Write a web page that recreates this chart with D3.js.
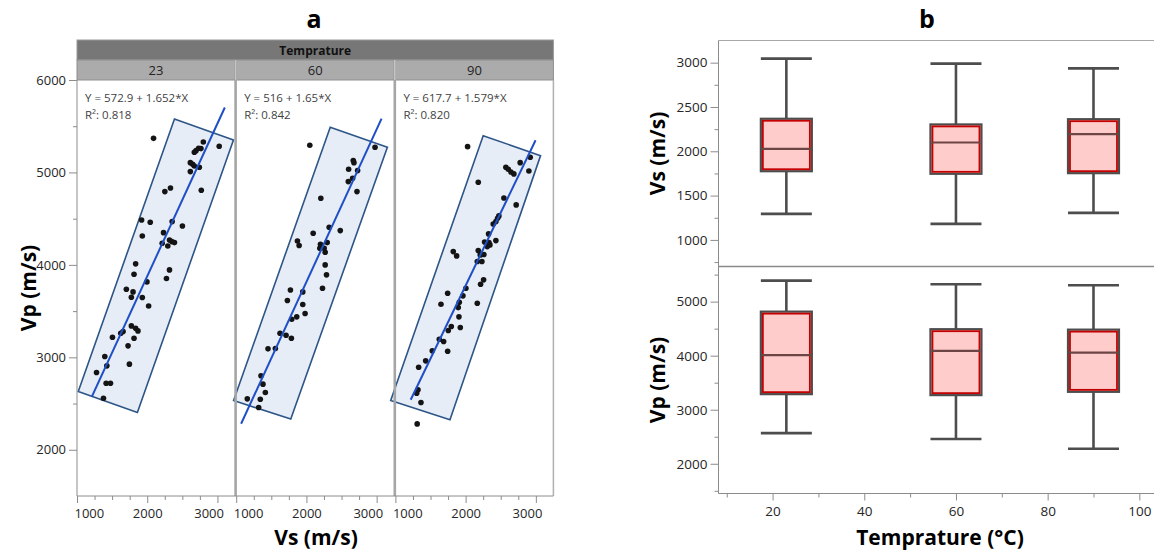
<!DOCTYPE html>
<html><head><meta charset="utf-8">
<script src="https://cdn.jsdelivr.net/npm/d3@7"></script>
<style>
body{margin:0;background:#fff;}
svg text{font-family:"Open Sans","Noto Sans",sans-serif;}
</style></head><body>
<svg id="c" width="1154" height="551"></svg>
<script>
// ---------- DATA ----------
const facetLabels = ["23", "60", "90"];
const pts23 = [[2090,5369],[2799,5330],[3025,5283],[2732,5261],[2765,5258],[2695,5236],[2671,5218],[2614,5106],[2647,5088],[2671,5070],[2742,5056],[2614,5009],[2770,4807],[2251,4793],[2331,4832],[1920,4486],[2043,4461],[2355,4468],[2501,4421],[1930,4313],[2232,4349],[2213,4234],[2317,4270],[2350,4252],[2388,4241],[2293,4205],[1835,4011],[1812,3899],[2317,3946],[2274,3852],[1996,3816],[1703,3737],[1798,3708],[1774,3650],[1930,3647],[2020,3556],[1774,3340],[1835,3315],[1868,3286],[1656,3279],[1623,3261],[1812,3207],[1505,3218],[1727,3124],[1396,3009],[1425,2908],[1746,2926],[1278,2836],[1415,2720],[1477,2720],[1377,2558]];
const pts60 = [[2048,5294],[2977,5272],[2667,5128],[2677,5106],[2601,5034],[2729,5020],[2658,4937],[2596,4901],[2720,4793],[2205,4721],[2324,4407],[2482,4371],[2096,4342],[1872,4259],[1896,4209],[2296,4241],[2200,4223],[2191,4180],[2253,4180],[2267,4137],[2267,4000],[2286,3892],[2229,3748],[1772,3729],[1948,3708],[1729,3614],[1948,3571],[1981,3474],[1862,3438],[1791,3412],[1624,3261],[1710,3239],[1786,3207],[1453,3092],[1558,3095],[1353,2800],[1381,2710],[1415,2619],[1158,2551],[1343,2547],[1320,2457]];
const pts90 = [[2028,5279],[2920,5164],[2777,5106],[2573,5056],[2607,5034],[2645,5005],[2687,4984],[2901,5016],[2180,4894],[2545,4724],[2720,4649],[2474,4530],[2455,4504],[2431,4468],[2393,4443],[2327,4335],[2270,4248],[2332,4241],[2431,4263],[2308,4198],[2346,4216],[1824,4144],[1872,4097],[2180,4155],[2260,4112],[2208,4108],[2166,4036],[2232,4036],[2256,3838],[2213,3791],[2004,3748],[1744,3693],[1962,3665],[1910,3596],[1649,3574],[2166,3585],[1895,3538],[1905,3438],[1796,3333],[1753,3290],[1924,3322],[1625,3196],[1687,3171],[1525,3070],[1744,3066],[1431,2962],[1331,2893],[1322,2648],[1303,2612],[1364,2511],[1310,2280]];
const fitIntercept = [572.9, 516, 617.7];
const fitSlope = [1.652, 1.65, 1.579];
const fitEquation = ["Y = 572.9 + 1.652*X", "Y = 516 + 1.65*X", "Y = 617.7 + 1.579*X"];
const fitR2 = ["0.818", "0.842", "0.820"];
const fitRange = [[1210, 3105], [1070, 3070], [1218, 2996]];
const rect23 = [[2388,5578],[3228,5351],[1860,2403],[1018,2630]];
const rect60 = [[2339,5489],[3153,5272],[1777,2332],[963,2533]];
const rect90 = [[2250,5398],[3067,5182],[1777,2324],[933,2533]];
const aYTicks = [2000, 3000, 4000, 5000, 6000];
const aXTicks = [1000, 2000, 3000];

const boxTemps = [23, 60, 90];
// [min, Q1, median, Q3, max]
const vsBox = [[1294,1775,2028,2367,3045],[1181,1746,2099,2303,2989],[1305,1753,2193,2362,2936]];
const vpBox = [[2567,3288,4010,4815,5388],[2457,3270,4089,4490,5322],[2277,3331,4057,4482,5303]];
const vsTicks = [1000, 1500, 2000, 2500, 3000];
const vpTicks = [2000, 3000, 4000, 5000];
const tempTicks = [20, 40, 60, 80, 100];

// ---------- DRAW ----------
const svg = d3.select("#c");
const allPts = [pts23, pts60, pts90];
const allRects = [rect23, rect60, rect90];
const axisCol = "#8c8c8c";
const fmt = d3.format("d");

function styleAxis(g, fs) {
  g.select(".domain").remove();
  g.selectAll(".tick line").attr("stroke", axisCol).attr("stroke-width", 1);
  g.selectAll(".tick text").attr("fill", "#262626").style("font-size", (fs||13) + "px")
   .style("font-family", '"Open Sans","Noto Sans",sans-serif');
}

// Panel a
const aTop = 80, aBot = 496, aLeft = 77, facetW = 158, facetStep = 159.2;
const yA = d3.scaleLinear().domain([1500, 6000]).range([aBot, aTop]);
const xA = facetLabels.map((_, i) => d3.scaleLinear().domain([1000, 3250])
  .range([aLeft + i * facetStep, aLeft + i * facetStep + facetW]));
const aRight = xA[2].range()[1];

svg.append("text").attr("x", 314).attr("y", 28).attr("text-anchor", "middle")
  .style("font-size", "25px").style("font-weight", "bold").text("a");

// header
svg.append("rect").attr("x", aLeft).attr("y", 40).attr("width", aRight - aLeft).attr("height", 20)
  .attr("fill", "#777777").attr("stroke", "#9a9a9a").attr("stroke-width", 1);
svg.append("text").attr("x", (aLeft + aRight) / 2).attr("y", 54.5).attr("text-anchor", "middle")
  .style("font-size", "12px").style("font-weight", "bold").attr("fill", "#111").text("Temprature");
facetLabels.forEach((lab, i) => {
  const [x0, x1] = xA[i].range();
  svg.append("rect").attr("x", x0).attr("y", 60).attr("width", x1 - x0).attr("height", 20)
    .attr("fill", "#ababab").attr("stroke", "#8e8e8e").attr("stroke-width", 1);
  svg.append("text").attr("x", (x0 + x1) / 2).attr("y", 75).attr("text-anchor", "middle")
    .style("font-size", "13px").attr("fill", "#222").text(lab);
});

// facets
facetLabels.forEach((lab, i) => {
  const x = xA[i];
  const g = svg.append("g");
  g.append("polygon").attr("points", allRects[i].map(d => [x(d[0]), yA(d[1])].join(",")).join(" "))
    .attr("fill", "#e7edf6").attr("stroke", "#2d5587").attr("stroke-width", 1.6);
  g.selectAll("circle").data(allPts[i]).join("circle")
    .attr("cx", d => x(d[0])).attr("cy", d => yA(d[1])).attr("r", 2.8).attr("fill", "#141414");
  const [xa, xb] = fitRange[i];
  g.append("line").attr("x1", x(xa)).attr("y1", yA(fitIntercept[i] + fitSlope[i] * xa))
    .attr("x2", x(xb)).attr("y2", yA(fitIntercept[i] + fitSlope[i] * xb))
    .attr("stroke", "#1f4fc6").attr("stroke-width", 2);
  const x0 = x.range()[0];
  g.append("text").attr("x", x0 + 8).attr("y", 102).style("font-size", "11.5px").attr("fill", "#3f3f3f")
    .text(fitEquation[i]);
  g.append("text").attr("x", x0 + 8).attr("y", 118.5).style("font-size", "11.5px").attr("fill", "#3f3f3f")
    .text("R²: " + fitR2[i]);
  const minor = d3.range(1250, 3250, 250).filter(v => v % 1000 !== 0);
  const gm = svg.append("g").attr("transform", `translate(0,${aBot})`)
    .call(d3.axisBottom(x).tickValues(minor).tickSize(4).tickFormat(""));
  styleAxis(gm);
  const gx = svg.append("g").attr("transform", `translate(0,${aBot})`)
    .call(d3.axisBottom(x).tickValues(aXTicks).tickSize(7).tickPadding(6).tickFormat(fmt));
  styleAxis(gx, 13);
  gx.selectAll(".tick text").each(function(d) {
    const t = d3.select(this);
    if (d === 1000) t.attr("text-anchor", "start").attr("dx", -3);
    if (d === 3000) t.attr("text-anchor", "end").attr("dx", 6);
  });
});

// separators & frame
[xA[0].range()[1] + 0.6, xA[1].range()[1] + 0.6].forEach(sx => {
  svg.append("line").attr("x1", sx).attr("x2", sx).attr("y1", aTop).attr("y2", aBot)
    .attr("stroke", "#a6a6a6").attr("stroke-width", 2.6);
  svg.append("line").attr("x1", sx).attr("x2", sx).attr("y1", 60).attr("y2", aTop)
    .attr("stroke", "#c4c4c4").attr("stroke-width", 1.6);
});
svg.append("line").attr("x1", aLeft).attr("x2", aLeft).attr("y1", aTop).attr("y2", aBot).attr("stroke", axisCol);
svg.append("line").attr("x1", aRight).attr("x2", aRight).attr("y1", aTop).attr("y2", aBot).attr("stroke", "#b0b0b0").attr("stroke-width", 1.5);
svg.append("line").attr("x1", aLeft).attr("x2", aRight).attr("y1", aBot).attr("y2", aBot).attr("stroke", axisCol);

const gyam = svg.append("g").attr("transform", `translate(${aLeft},0)`)
  .call(d3.axisLeft(yA).tickValues([2500, 3500, 4500, 5500]).tickSize(4).tickFormat(""));
styleAxis(gyam);
const gya = svg.append("g").attr("transform", `translate(${aLeft},0)`)
  .call(d3.axisLeft(yA).tickValues(aYTicks).tickSize(8).tickPadding(3).tickFormat(fmt));
styleAxis(gya, 13);

svg.append("text").attr("x", 316).attr("y", 545).attr("text-anchor", "middle")
  .style("font-size", "21px").style("font-weight", "bold").text("Vs (m/s)");
svg.append("text").attr("transform", `translate(36,${(aTop + aBot) / 2}) rotate(-90)`).attr("text-anchor", "middle")
  .style("font-size", "21px").style("font-weight", "bold").text("Vp (m/s)");

// Panel b
const bLeft = 718.5, bRight = 1154, bTop = 40.5, bMid = 266.5, bBot = 493.5;
const xB = d3.scaleLinear().domain([8.2, 103.2]).range([bLeft, bRight]);
const yVs = d3.scaleLinear().domain([700, 3250]).range([bMid, bTop]);
const yVp = d3.scaleLinear().domain([1450, 5650]).range([bBot, bMid]);
const boxW = 51;

svg.append("text").attr("x", 927).attr("y", 28).attr("text-anchor", "middle")
  .style("font-size", "25px").style("font-weight", "bold").text("b");

function drawBoxes(y, stats) {
  boxTemps.forEach((t, i) => {
    const [mn, q1, md, q3, mx] = stats[i];
    const cx = xB(t), x0 = cx - boxW / 2;
    const g = svg.append("g");
    g.append("line").attr("x1", cx).attr("x2", cx).attr("y1", y(mx)).attr("y2", y(q3)).attr("stroke", "#4d4d4d").attr("stroke-width", 2.6);
    g.append("line").attr("x1", cx).attr("x2", cx).attr("y1", y(q1)).attr("y2", y(mn)).attr("stroke", "#4d4d4d").attr("stroke-width", 2.6);
    g.append("line").attr("x1", x0).attr("x2", x0 + boxW).attr("y1", y(mx)).attr("y2", y(mx)).attr("stroke", "#4d4d4d").attr("stroke-width", 2.6);
    g.append("line").attr("x1", x0).attr("x2", x0 + boxW).attr("y1", y(mn)).attr("y2", y(mn)).attr("stroke", "#4d4d4d").attr("stroke-width", 2.6);
    g.append("rect").attr("x", x0).attr("y", y(q3)).attr("width", boxW).attr("height", y(q1) - y(q3))
      .attr("fill", "#ffcccc").attr("stroke", "#4d4d4d").attr("stroke-width", 2.2);
    g.append("rect").attr("x", x0 + 2).attr("y", y(q3) + 2).attr("width", boxW - 4).attr("height", y(q1) - y(q3) - 4)
      .attr("fill", "none").attr("stroke", "#c40000").attr("stroke-width", 1.8);
    g.append("line").attr("x1", x0 + 1).attr("x2", x0 + boxW - 1).attr("y1", y(md)).attr("y2", y(md))
      .attr("stroke", "#6e4545").attr("stroke-width", 2.2);
  });
}
drawBoxes(yVs, vsBox);
drawBoxes(yVp, vpBox);

svg.append("line").attr("x1", bLeft).attr("x2", bRight).attr("y1", bTop).attr("y2", bTop).attr("stroke", "#a8a8a8").attr("stroke-width", 1.2);
svg.append("line").attr("x1", bLeft).attr("x2", bRight).attr("y1", bMid).attr("y2", bMid).attr("stroke", "#8a8a8a").attr("stroke-width", 1.6);
svg.append("line").attr("x1", bLeft).attr("x2", bLeft).attr("y1", bTop).attr("y2", bBot).attr("stroke", axisCol);
svg.append("line").attr("x1", bLeft).attr("x2", bRight).attr("y1", bBot).attr("y2", bBot).attr("stroke", axisCol);

let g1 = svg.append("g").attr("transform", `translate(${bLeft},0)`)
  .call(d3.axisLeft(yVs).tickValues([750, 1250, 1750, 2250, 2750]).tickSize(4).tickFormat(""));
styleAxis(g1);
g1 = svg.append("g").attr("transform", `translate(${bLeft},0)`)
  .call(d3.axisLeft(yVs).tickValues(vsTicks).tickSize(8).tickPadding(3).tickFormat(fmt));
styleAxis(g1, 13.5);
let g2 = svg.append("g").attr("transform", `translate(${bLeft},0)`)
  .call(d3.axisLeft(yVp).tickValues([1500, 2500, 3500, 4500, 5500]).tickSize(4).tickFormat(""));
styleAxis(g2);
g2 = svg.append("g").attr("transform", `translate(${bLeft},0)`)
  .call(d3.axisLeft(yVp).tickValues(vpTicks).tickSize(8).tickPadding(3).tickFormat(fmt));
styleAxis(g2, 13.5);
let g3 = svg.append("g").attr("transform", `translate(0,${bBot})`)
  .call(d3.axisBottom(xB).tickValues([10, 30, 50, 70, 90]).tickSize(4).tickFormat(""));
styleAxis(g3);
g3 = svg.append("g").attr("transform", `translate(0,${bBot})`)
  .call(d3.axisBottom(xB).tickValues(tempTicks).tickSize(7).tickPadding(6).tickFormat(fmt));
styleAxis(g3, 13.5);

svg.append("text").attr("x", 940).attr("y", 545).attr("text-anchor", "middle")
  .style("font-size", "21px").style("font-weight", "bold").text("Temprature (°C)");
svg.append("text").attr("transform", `translate(665,${(bTop + bMid) / 2}) rotate(-90)`).attr("text-anchor", "middle")
  .style("font-size", "21px").style("font-weight", "bold").text("Vs (m/s)");
svg.append("text").attr("transform", `translate(665,${(bMid + bBot) / 2}) rotate(-90)`).attr("text-anchor", "middle")
  .style("font-size", "21px").style("font-weight", "bold").text("Vp (m/s)");
</script>
</body></html>
